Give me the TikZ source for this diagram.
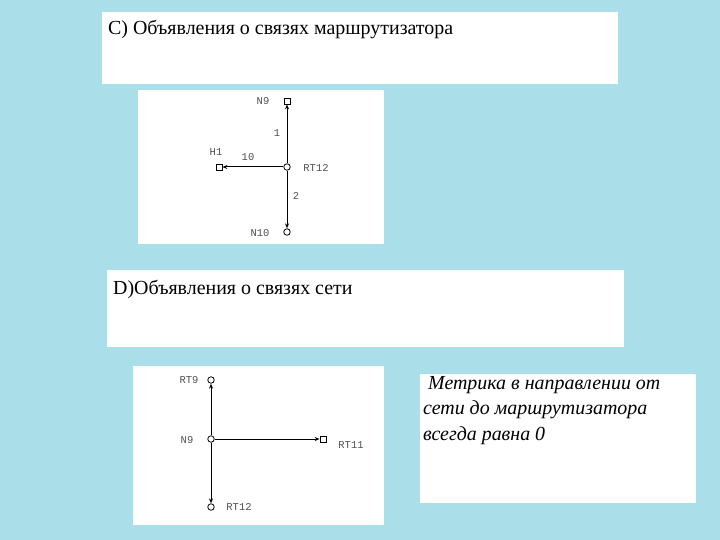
\documentclass[tikz,border=0pt]{standalone}
\usepackage{fontspec}
\setmainfont{Liberation Serif}
\newfontfamily\lblfont{Liberation Mono}
\usetikzlibrary{arrows.meta}
\definecolor{bgcyan}{RGB}{170,222,232}
\definecolor{lblgray}{RGB}{80,80,80}
\tikzset{
  panel/.style={fill=white,draw=none},
  sq/.style={draw=black,fill=white,rectangle,minimum size=6bp,inner sep=0pt,line width=0.8bp},
  circ/.style={draw=black,fill=white,circle,minimum size=6.5bp,inner sep=0pt,line width=0.8bp},
  lbl/.style={font=\lblfont\fontsize{10.5}{11}\selectfont,text=lblgray,inner sep=1bp},
  link/.style={line width=1bp,-{Stealth[length=5bp,width=4bp]}},
  title/.style={font=\fontsize{20}{22}\selectfont,anchor=west,inner sep=0pt},
}
\begin{document}
\begin{tikzpicture}[x=1bp,y=-1bp]
\fill[bgcyan] (0,0) rectangle (720,540);
\useasboundingbox (0,0) rectangle (720,540);
% panels
\fill[panel] (102,12) rectangle (618,84);
\fill[panel] (138,90) rectangle (384,244);
\fill[panel] (107,270) rectangle (624,347);
\fill[panel] (133,366) rectangle (384,525);
\fill[panel] (420,374) rectangle (696,503);
% titles
\node[title] (tC) at (108,30) {C) Объявления о связях маршрутизатора};
\node[title] (tD) at (113,289) {D)Объявления о связях сети};
\node[font=\itshape\fontsize{20}{25.5}\selectfont,anchor=north west,align=left,inner sep=0pt] (note) at (423,376)
  {\ Метрика в направлении от\\сети до маршрутизатора\\всегда равна 0};
% diagram C
\node[sq] (n9) at (287,101) {};
\node[circ] (rt12) at (287,167) {};
\node[sq] (h1) at (219,167) {};
\node[circ] (n10) at (287,232) {};
\draw[link] (rt12) -- (n9);
\draw[link] (rt12) -- (h1);
\draw[link] (rt12) -- (n10);
\node[lbl] (ln9) at (263,101) {N9};
\node[lbl] (l1) at (277,133) {1};
\node[lbl] (l10) at (248,157) {10};
\node[lbl] (lrt12) at (316,168) {RT12};
\node[lbl] (l2) at (296,196) {2};
\node[lbl] (lh1) at (216,152) {H1};
\node[lbl] (ln10) at (260,233) {N10};
% diagram D
\node[circ] (rt9) at (211,380) {};
\node[circ] (dn9) at (211,439) {};
\node[sq] (rt11) at (323,439) {};
\node[circ] (drt12) at (211,507) {};
\draw[link] (dn9) -- (rt9);
\draw[link] (dn9) -- (rt11);
\draw[link] (dn9) -- (drt12);
\node[lbl] (lrt9) at (189,380) {RT9};
\node[lbl] (ldn9) at (187,440) {N9};
\node[lbl] (lrt11) at (351,445) {RT11};
\node[lbl] (ldrt12) at (239,507) {RT12};
\end{tikzpicture}
\end{document}
